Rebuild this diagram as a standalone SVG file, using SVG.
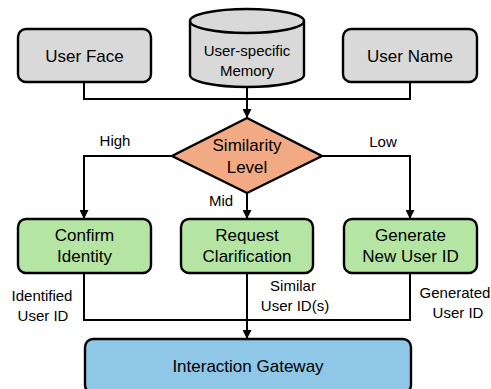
<svg xmlns="http://www.w3.org/2000/svg" width="491" height="389" viewBox="0 0 491 389">
<defs>
<marker id="arr" viewBox="0 0 10 10" refX="10" refY="5" markerWidth="9" markerHeight="9" markerUnits="userSpaceOnUse" orient="auto">
<path d="M0,0 L10,5 L0,10 z" fill="#000"/>
</marker>
<style>
.box{stroke:#000;stroke-width:2.4}
.gray{fill:#d9d9d9}
.green{fill:#b4e5a2}
.orange{fill:#f2aa84}
.blue{fill:#8fc7e7}
.t{font-family:"Liberation Sans",Arial,sans-serif;font-size:17px;fill:#000;text-anchor:middle}
.s{font-family:"Liberation Sans",Arial,sans-serif;font-size:15px;fill:#000;text-anchor:middle}
.c{fill:none;stroke:#000;stroke-width:2}
</style>
</defs>
<rect width="491" height="389" fill="#fff"/>
<g id="connectors">
<path class="c" d="M84,82 V99 H410 V82"/>
<path class="c" d="M247,87 V118" marker-end="url(#arr)"/>
<path class="c" d="M172,156 H84 V219" marker-end="url(#arr)"/>
<path class="c" d="M322,156 H410 V219" marker-end="url(#arr)"/>
<path class="c" d="M247,193 V219" marker-end="url(#arr)"/>
<path class="c" d="M84,273 V320 H410 V273"/>
<path class="c" d="M247,273 V339" marker-end="url(#arr)"/>
<text class="s" x="115" y="146">High</text>
<text class="s" x="383" y="147">Low</text>
<text class="s" x="221" y="206">Mid</text>
<text class="s" x="42" y="301">Identified</text>
<text class="s" x="43" y="321">User ID</text>
<text class="s" x="293" y="291">Similar</text>
<text class="s" x="295" y="311">User ID(s)</text>
<text class="s" x="455" y="298">Generated</text>
<text class="s" x="458" y="318">User ID</text>
</g>
<g id="user-face">
<rect class="box gray" x="18" y="29" width="133" height="53" rx="8"/>
<text class="t" x="84.5" y="62">User Face</text>
</g>
<g id="memory">
<path class="box gray" d="M190,21 V75 A57,12 0 0 0 304,75 V21 A57,12 0 0 0 190,21 Z"/>
<path class="box" fill="none" d="M190,21 A57,12 0 0 0 304,21"/>
<text class="s" x="247" y="56">User-specific</text>
<text class="s" x="247" y="76">Memory</text>
</g>
<g id="user-name">
<rect class="box gray" x="343" y="29" width="134" height="53" rx="8"/>
<text class="t" x="410" y="62">User Name</text>
</g>
<g id="similarity">
<path class="box orange" d="M247,118 L322,156 L247,193 L172,156 Z"/>
<text class="t" x="247" y="151">Similarity</text>
<text class="t" x="247" y="173">Level</text>
</g>
<g id="confirm">
<rect class="box green" x="18" y="219" width="133" height="54" rx="8"/>
<text class="t" x="84.5" y="241">Confirm</text>
<text class="t" x="84.5" y="262">Identity</text>
</g>
<g id="request">
<rect class="box green" x="181" y="219" width="132" height="54" rx="8"/>
<text class="t" x="247" y="241">Request</text>
<text class="t" x="247" y="262">Clarification</text>
</g>
<g id="generate">
<rect class="box green" x="344" y="219" width="133" height="54" rx="8"/>
<text class="t" x="410.5" y="241">Generate</text>
<text class="t" x="410.5" y="262">New User ID</text>
</g>
<g id="gateway">
<rect class="box blue" x="85" y="339" width="326" height="54" rx="8"/>
<text class="t" x="248" y="372">Interaction Gateway</text>
</g>
</svg>
